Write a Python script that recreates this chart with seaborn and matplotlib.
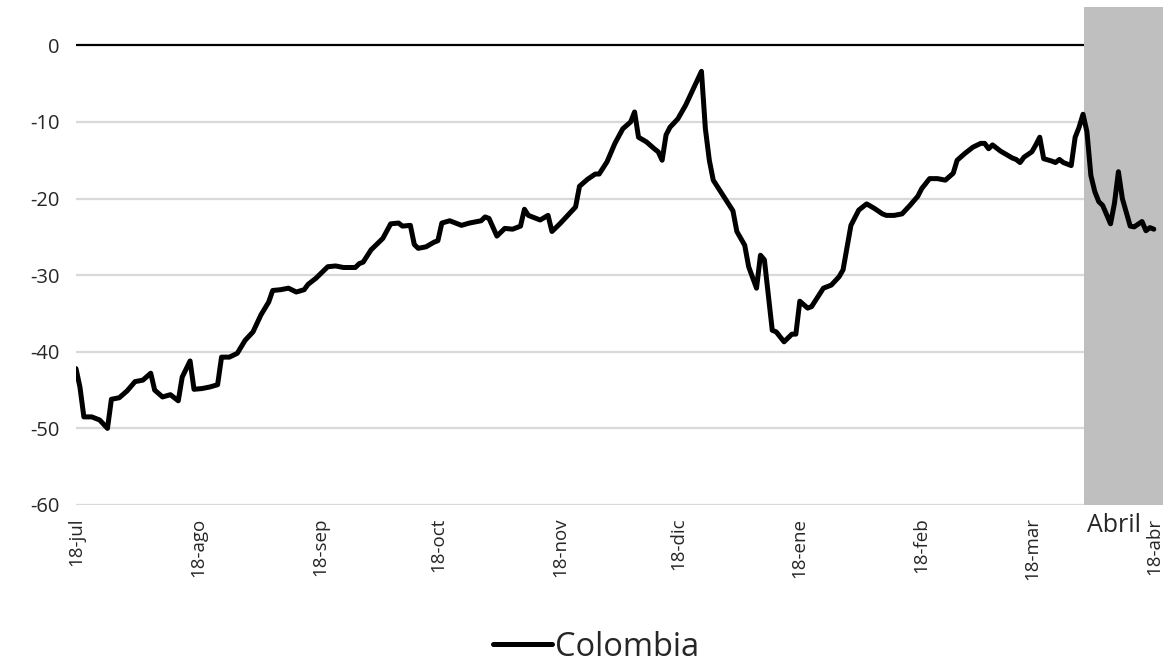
import pandas as pd
import numpy as np
import matplotlib
matplotlib.use("Agg")
import matplotlib.pyplot as plt
import seaborn as sns

# Serie diaria
fechas = [
    "2018-07-18", "2018-07-19", "2018-07-20", "2018-07-22", "2018-07-24", "2018-07-26",
    "2018-07-27", "2018-07-29", "2018-07-31", "2018-08-02", "2018-08-04", "2018-08-06",
    "2018-08-07", "2018-08-09", "2018-08-11", "2018-08-13", "2018-08-14", "2018-08-16",
    "2018-08-17", "2018-08-19", "2018-08-21", "2018-08-23", "2018-08-24", "2018-08-26",
    "2018-08-28", "2018-08-30", "2018-09-01", "2018-09-03", "2018-09-05", "2018-09-06",
    "2018-09-08", "2018-09-10", "2018-09-12", "2018-09-14", "2018-09-15", "2018-09-17",
    "2018-09-20", "2018-09-22", "2018-09-24", "2018-09-27", "2018-09-28", "2018-09-29",
    "2018-10-01", "2018-10-04", "2018-10-06", "2018-10-08", "2018-10-09", "2018-10-11",
    "2018-10-12", "2018-10-13", "2018-10-15", "2018-10-17", "2018-10-18", "2018-10-19",
    "2018-10-21", "2018-10-24", "2018-10-26", "2018-10-29", "2018-10-30", "2018-10-31",
    "2018-11-02", "2018-11-04", "2018-11-06", "2018-11-08", "2018-11-09", "2018-11-10",
    "2018-11-13", "2018-11-15", "2018-11-16", "2018-11-18", "2018-11-20", "2018-11-22",
    "2018-11-23", "2018-11-25", "2018-11-27", "2018-11-28", "2018-11-30", "2018-12-02",
    "2018-12-04", "2018-12-06", "2018-12-07", "2018-12-08", "2018-12-10", "2018-12-12",
    "2018-12-13", "2018-12-14", "2018-12-15", "2018-12-16", "2018-12-18", "2018-12-20",
    "2018-12-22", "2018-12-24", "2018-12-25", "2018-12-26", "2018-12-27", "2018-12-30",
    "2019-01-01", "2019-01-02", "2019-01-04", "2019-01-05", "2019-01-07", "2019-01-08",
    "2019-01-09", "2019-01-11", "2019-01-12", "2019-01-14", "2019-01-16", "2019-01-17",
    "2019-01-18", "2019-01-20", "2019-01-21", "2019-01-24", "2019-01-26", "2019-01-28",
    "2019-01-29", "2019-01-31", "2019-02-02", "2019-02-04", "2019-02-06", "2019-02-08",
    "2019-02-09", "2019-02-11", "2019-02-13", "2019-02-15", "2019-02-17", "2019-02-18",
    "2019-02-20", "2019-02-22", "2019-02-24", "2019-02-26", "2019-02-27", "2019-03-01",
    "2019-03-03", "2019-03-05", "2019-03-06", "2019-03-07", "2019-03-08", "2019-03-10",
    "2019-03-13", "2019-03-14", "2019-03-15", "2019-03-16", "2019-03-18", "2019-03-19",
    "2019-03-20", "2019-03-21", "2019-03-23", "2019-03-24", "2019-03-25", "2019-03-26",
    "2019-03-28", "2019-03-29", "2019-03-30", "2019-03-31", "2019-04-01", "2019-04-02",
    "2019-04-03", "2019-04-04", "2019-04-05", "2019-04-07", "2019-04-08", "2019-04-09",
    "2019-04-10", "2019-04-12", "2019-04-13", "2019-04-15", "2019-04-16", "2019-04-17",
    "2019-04-18",
]
colombia = [
    -42.2, -44.6, -48.5, -48.5, -48.9, -50.0,
    -46.2, -46.0, -45.1, -43.9, -43.7, -42.8,
    -45.0, -45.9, -45.6, -46.4, -43.3, -41.2,
    -44.9, -44.8, -44.6, -44.3, -40.7, -40.7,
    -40.2, -38.5, -37.4, -35.2, -33.5, -32.0,
    -31.9, -31.7, -32.2, -31.9, -31.2, -30.4,
    -28.9, -28.8, -29.0, -29.0, -28.5, -28.3,
    -26.7, -25.2, -23.3, -23.2, -23.6, -23.5,
    -26.0, -26.5, -26.3, -25.7, -25.5, -23.2,
    -22.9, -23.5, -23.2, -22.9, -22.4, -22.6,
    -24.9, -23.9, -24.0, -23.6, -21.4, -22.2,
    -22.8, -22.2, -24.3, -23.3, -22.2, -21.1,
    -18.4, -17.5, -16.8, -16.8, -15.2, -12.8,
    -10.9, -10.0, -8.7, -12.0, -12.6, -13.5,
    -13.9, -15.0, -11.7, -10.7, -9.6, -7.8,
    -5.6, -3.4, -10.9, -15.0, -17.6, -20.0,
    -21.6, -24.3, -26.1, -28.9, -31.7, -27.4,
    -28.0, -37.2, -37.4, -38.7, -37.7, -37.7,
    -33.4, -34.3, -34.1, -31.7, -31.3, -30.2,
    -29.3, -23.5, -21.5, -20.7, -21.3, -22.0,
    -22.2, -22.2, -22.0, -20.9, -19.7, -18.7,
    -17.4, -17.4, -17.6, -16.7, -15.0, -14.1,
    -13.3, -12.8, -12.8, -13.5, -13.0, -13.8,
    -14.7, -14.9, -15.3, -14.6, -13.9, -13.0,
    -12.0, -14.8, -15.1, -15.3, -14.9, -15.3,
    -15.7, -12.0, -10.7, -9.0, -11.3, -17.0,
    -19.1, -20.4, -20.9, -23.3, -20.6, -16.5,
    -20.0, -23.6, -23.7, -23.0, -24.2, -23.8,
    -24.0,
]

tick_fechas = ["2018-07-18", "2018-08-18", "2018-09-18", "2018-10-18", "2018-11-18",
               "2018-12-18", "2019-01-18", "2019-02-18", "2019-03-18", "2019-04-18"]
tick_labels = ["18-jul", "18-ago", "18-sep", "18-oct", "18-nov",
               "18-dic", "18-ene", "18-feb", "18-mar", "18-abr"]

df = pd.DataFrame({"fecha": pd.to_datetime(fechas), "Colombia": colombia})

sns.set_style("white")
plt.rcParams["font.family"] = ["Open Sans", "DejaVu Sans"]
plt.rcParams["axes.unicode_minus"] = False

fig = plt.figure(figsize=(11.65, 6.71), dpi=100)
ax = fig.add_axes([76 / 1165, 1 - 505 / 671, (1163 - 76) / 1165, (505 - 7) / 671])

x_ini = pd.Timestamp("2018-07-18")
x_fin = pd.Timestamp("2019-04-20 08:00")

# franja de abril
ax.axvspan(pd.Timestamp("2019-03-31 03:00"), x_fin, color="#bfbfbf", lw=0, zorder=2)

for y in range(-60, 0, 10):
    ax.axhline(y, color="#d9d9d9", lw=1.6, zorder=1)
ax.axhline(0, color="black", lw=1.6, zorder=1.5)

sns.lineplot(data=df, x="fecha", y="Colombia", color="black", lw=3.6,
             ax=ax, label="Colombia", legend=False, zorder=3)

ax.set_xlim(x_ini, x_fin)
ax.set_ylim(-60, 5)
ax.set_yticks(range(-60, 1, 10))
ax.set_xticks(pd.to_datetime(tick_fechas))
ax.set_xticklabels(tick_labels, rotation=90)
ax.tick_params(axis="x", length=0, labelsize=13.5, pad=9)
ax.tick_params(axis="y", length=0, labelsize=14.5, pad=12)
for s in ax.spines.values():
    s.set_visible(False)
ax.set_xlabel("")
ax.set_ylabel("")

ax.text(pd.Timestamp("2019-04-08"), -61.0, "Abril", ha="center", va="top", fontsize=18)

handles, labels = ax.get_legend_handles_labels()
fig.legend(handles, labels, loc="lower center", bbox_to_anchor=(0.512, -0.033),
           frameon=False, fontsize=23.5, handlelength=1.8, handletextpad=0.1)

fig.savefig("out.png", dpi=100)
